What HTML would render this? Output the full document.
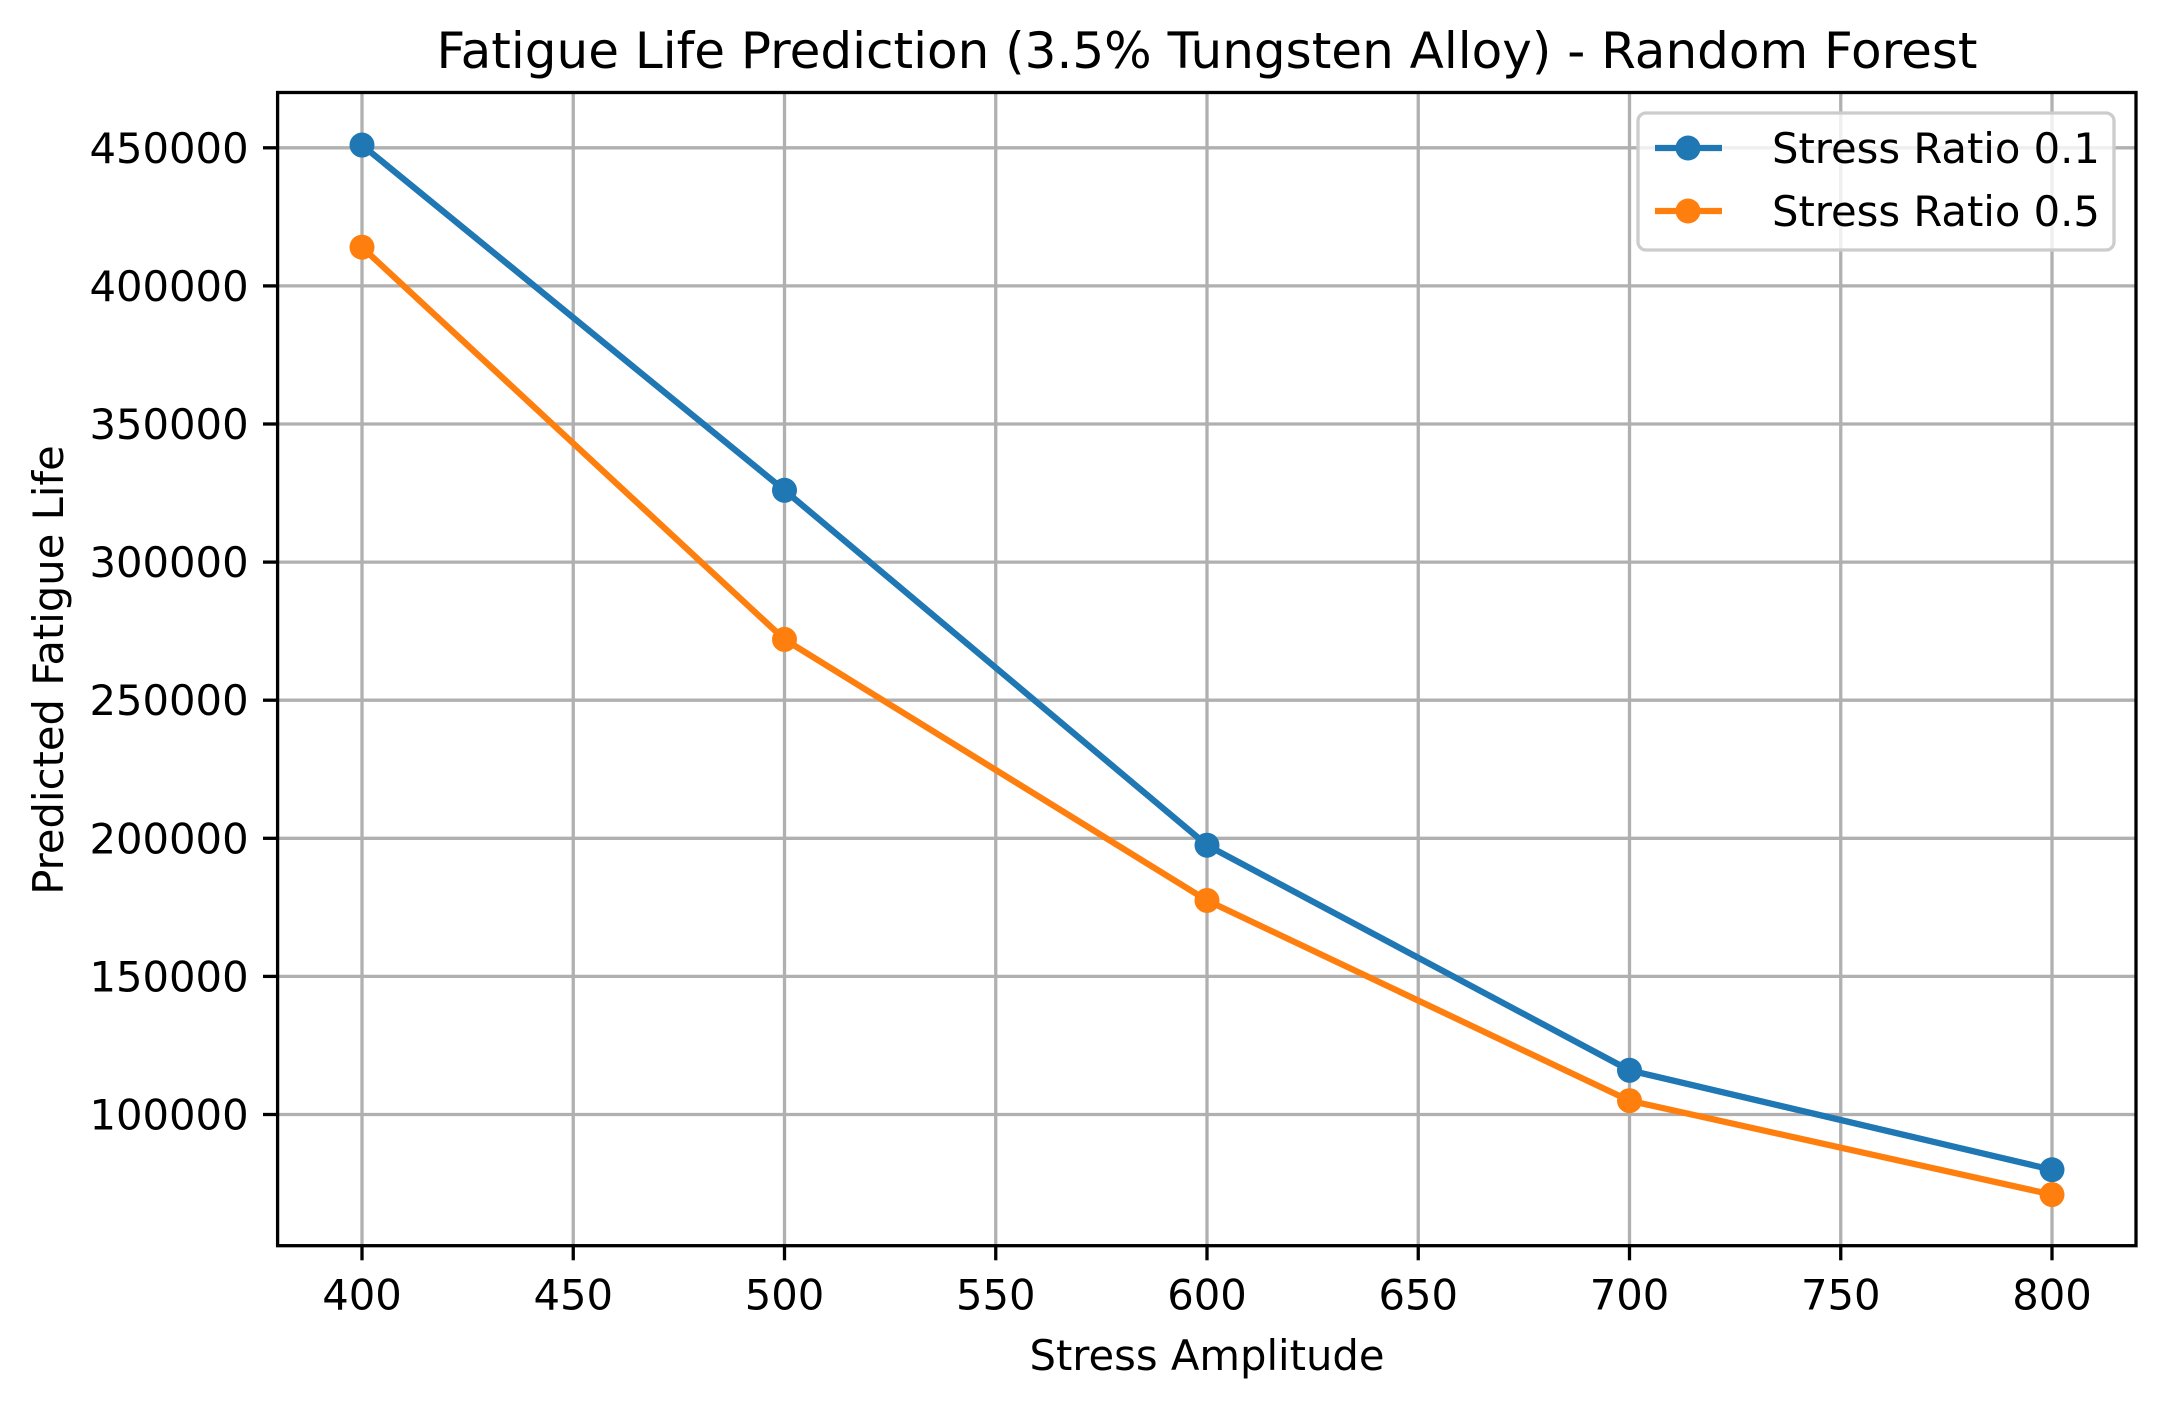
<!DOCTYPE html>
<html><head><meta charset="utf-8"><style>
body{margin:0;background:#fff;}
svg{display:block;font-family:"DejaVu Sans","Liberation Sans",sans-serif;}
</style></head><body>
<svg id="chart" width="2166" height="1407" xmlns="http://www.w3.org/2000/svg">
<rect width="2166" height="1407" fill="#fff"/>
<g id="grid"></g>
<g id="series"></g>
<rect x="277.6" y="92.5" width="1858.4" height="1153.2" fill="none" stroke="#000" stroke-width="3.3"/>
<g id="ticks"></g>
<text x="1207" y="68" font-size="50" text-anchor="middle">Fatigue Life Prediction (3.5% Tungsten Alloy) - Random Forest</text>
<text x="1207" y="1370" font-size="41.7" text-anchor="middle">Stress Amplitude</text>
<text x="0" y="0" font-size="41.7" text-anchor="middle" transform="translate(63,670) rotate(-90)">Predicted Fatigue Life</text>
<g>
<rect x="1638" y="113" width="476" height="137" rx="8" fill="#fff" fill-opacity="0.8" stroke="#ccc" stroke-width="3.3"/>
<g>
<line x1="1655" y1="148" x2="1722" y2="148" stroke="#1f77b4" stroke-width="6.25"/>
<circle cx="1688" cy="148" r="12.5" fill="#1f77b4"/>
<text x="1772" y="163" font-size="41.7">Stress Ratio 0.1</text></g>
<g>
<line x1="1655" y1="211" x2="1722" y2="211" stroke="#ff7f0e" stroke-width="6.25"/>
<circle cx="1688" cy="211" r="12.5" fill="#ff7f0e"/>
<text x="1772" y="226" font-size="41.7">Stress Ratio 0.5</text></g>
</g>
</svg>
<script>
const categories = [400, 500, 600, 700, 800];
const ratio01 = [451000, 326000, 197500, 116000, 80000];
const ratio05 = [414000, 272000, 177500, 105000, 71000];
const xTicks = [400, 450, 500, 550, 600, 650, 700, 750, 800];
const yTicks = [100000, 150000, 200000, 250000, 300000, 350000, 400000, 450000];
const NS = "http://www.w3.org/2000/svg";
const L = 277.6, R = 2136, T = 92.5, B = 1245.7;
function xs(v){ return 362 + (v - 400) * (2052 - 362) / 400; }
function ys(v){ return 1114.5 - (v - 100000) * (1114.5 - 147.8) / 350000; }
function mk(tag, attrs, parent){ const e = document.createElementNS(NS, tag); for (const k in attrs) e.setAttribute(k, attrs[k]); parent.appendChild(e); return e; }
const grid = document.getElementById('grid'), ticks = document.getElementById('ticks'), series = document.getElementById('series');
xTicks.forEach(v => {
  const x = xs(v);
  const g = mk('line', {x1:x, x2:x, y1:T, y2:B, stroke:'#b0b0b0', 'stroke-width':3.3}, grid);
  
  
  mk('line', {x1:x, x2:x, y1:B, y2:B+14.6, stroke:'#000', 'stroke-width':3.3}, ticks);
  const t = mk('text', {x:x, y:B+64, 'font-size':41.7, 'text-anchor':'middle'}, ticks);
  t.textContent = v;
  
  
});
yTicks.forEach(v => {
  const y = ys(v);
  const g = mk('line', {x1:L, x2:R, y1:y, y2:y, stroke:'#b0b0b0', 'stroke-width':3.3}, grid);
  
  
  mk('line', {x1:L-14.6, x2:L, y1:y, y2:y, stroke:'#000', 'stroke-width':3.3}, ticks);
  const t = mk('text', {x:L-29, y:y+15, 'font-size':41.7, 'text-anchor':'end'}, ticks);
  t.textContent = v;
  
  
});
[[ratio01, '#1f77b4', 'series-ratio-0.1'], [ratio05, '#ff7f0e', 'series-ratio-0.5']].forEach(([vals, c, name]) => {
  const pts = vals.map((v, i) => xs(categories[i]) + ',' + ys(v)).join(' ');
  const pl = mk('polyline', {points:pts, fill:'none', stroke:c, 'stroke-width':6.25, 'stroke-linejoin':'round'}, series);
  
  
  vals.forEach((v, i) => {
    const p = mk('circle', {cx:xs(categories[i]), cy:ys(v), r:12.5, fill:c}, series);
    
    
  });
});
</script>
</body></html>
